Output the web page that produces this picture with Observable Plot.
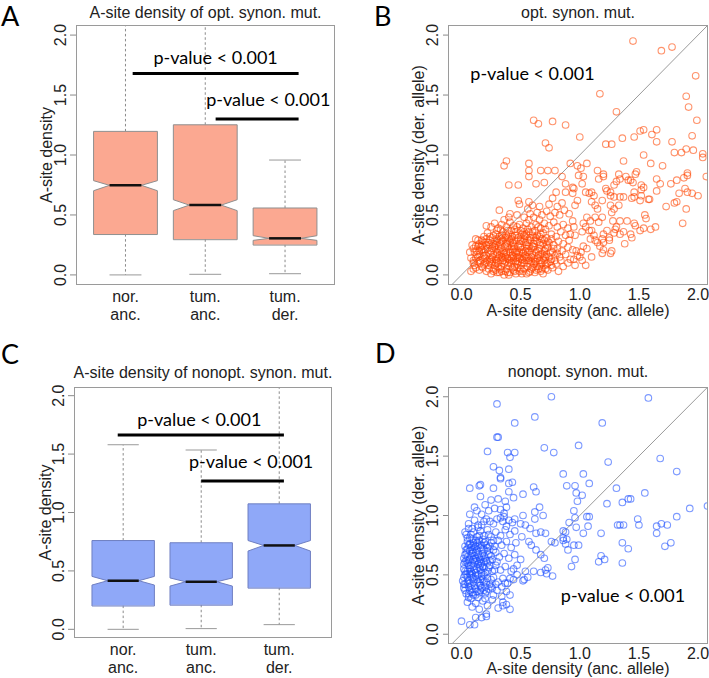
<!DOCTYPE html>
<html><head><meta charset="utf-8">
<script src="https://cdn.jsdelivr.net/npm/d3@7"></script>
<script src="https://cdn.jsdelivr.net/npm/@observablehq/plot@0.6"></script>
<style>
html,body{margin:0;padding:0;background:#fff;}
#root{position:relative;width:709px;height:678px;overflow:hidden;background:#fff;}
#root > svg{position:absolute;}
</style></head><body><div id="root"></div>
<script>
// ---------- shared categories / ticks ----------
const groups = ["nor.\nanc.", "tum.\nanc.", "tum.\nder."];
const yTicks = [0, 0.5, 1, 1.5, 2];
const xTicksScatter = [0, 0.5, 1, 1.5, 2];
const diagonal = [-0.2, 2.3];
const pLabel = "p-value < 0.001";

// ---------- Panel A: optimal synonymous (box stats) ----------
const optQ1 = [0.340, 0.297, 0.252];
const optQ3 = [1.197, 1.252, 0.558];
const optMed = [0.747, 0.582, 0.305];
const optNotchLo = [0.702, 0.536, 0.288];
const optNotchHi = [0.786, 0.627, 0.327];
const optWhiskLo = [0.000, 0.005, 0.010];
const optWhiskHi = [2.40, 2.40, 0.958];
const optBarFrom = [1.09, 2.13];
const optBarTo = [3.17, 3.17];
const optBarY = [1.68, 1.30];
const optTextX = [2.13, 2.79];
const optTextY = [1.81, 1.46];

// ---------- Panel C: non-optimal synonymous (box stats) ----------
const nonQ1 = [0.203, 0.210, 0.356];
const nonQ3 = [0.760, 0.741, 1.074];
const nonMed = [0.416, 0.407, 0.718];
const nonNotchLo = [0.379, 0.370, 0.670];
const nonNotchHi = [0.453, 0.440, 0.760];
const nonWhiskLo = [0.000, 0.006, 0.040];
const nonWhiskHi = [1.580, 1.535, 2.40];
const nonBarFrom = [0.93, 2.00];
const nonBarTo = [3.06, 3.06];
const nonBarY = [1.664, 1.27];
const nonTextX = [1.975, 2.64];
const nonTextY = [1.79, 1.43];

// ---------- Panel B: opt. synon. mut. scatter [anc, der] ----------
const optPoints = [
[1.45,1.95],[1.69,1.87],[1.78,1.90],[1.98,1.66],[1.17,1.51],[1.90,1.49],[1.92,1.40],[1.31,1.36],[1.99,1.29],[0.61,1.29],[0.65,1.26],[0.77,1.28],[0.88,1.25],[1.00,1.15],[0.71,1.10],[0.74,1.06],[1.95,1.16],[1.22,1.09],[1.27,1.09],[1.36,1.14],[1.46,1.15],[1.51,1.20],[1.54,1.21],[1.61,1.17],[1.65,1.21],[1.65,1.11],[1.78,1.11],[1.96,1.04],[1.90,1.05],[2.04,1.01],[1.86,1.02],[1.80,1.02],[1.54,1.00],
[0.38,0.95],[0.36,0.91],[0.57,0.93],[0.57,0.87],[0.57,0.82],[0.67,0.87],[0.73,0.87],[0.79,0.87],[0.40,0.75],[0.48,0.75],[0.70,0.77],[0.85,0.82],[0.88,0.76],[0.80,0.69],[0.88,0.69],[0.94,0.73],[0.48,0.62],[0.49,0.59],[0.57,0.61],[0.32,0.54],[0.41,0.51],[0.21,0.41],[0.14,0.29],[0.17,0.29],[0.10,0.22],[0.10,0.12],[1.06,0.93],[0.63,0.76],
[2.04,0.98],[1.37,0.95],[1.60,0.93],[1.70,0.91],[2.07,0.82],[1.91,0.85],[1.91,0.83],[1.82,0.79],[1.88,0.81],[1.77,0.76],[1.65,0.80],[1.68,0.76],[1.65,0.70],[1.59,0.63],[1.84,0.68],[1.89,0.72],[1.91,0.69],[1.95,0.68],[2.00,0.66],[1.90,0.55],[1.82,0.61],[1.80,0.60],[1.73,0.57],[1.87,0.43],[1.64,0.40],[1.60,0.38],[1.55,0.50],[1.56,0.47],[1.54,0.39],[1.51,0.37],[1.47,0.41],[1.46,0.43],[1.43,0.34],[1.44,0.31],[1.38,0.26],[1.40,0.45],[1.34,0.45],[1.28,0.45],[1.31,0.40],[1.27,0.20],[1.26,0.18],[1.19,0.18],[1.20,0.21],[1.29,0.35],[1.30,0.38],[1.34,0.34],[1.37,0.36],[1.20,0.34],[1.23,0.37],[1.19,0.30],[1.20,0.27],[1.25,0.31],[1.25,0.29],[1.52,0.75],[1.54,0.73],[1.47,0.84],[1.48,0.86],[1.43,0.79],[1.45,0.77],[1.46,0.69],[1.52,0.71],[1.52,0.66],[1.44,0.64],[1.46,0.65],[1.51,0.62],[1.58,0.63],[1.39,0.82],[1.41,0.79],[1.34,0.80],[1.33,0.84],[1.31,0.78],[1.29,0.75],[1.23,0.70],[1.22,0.72],[1.26,0.69],[1.26,0.66],[1.29,0.65],[1.26,0.58],[1.29,0.55],[1.27,0.52],[1.33,0.58],[1.34,0.65],[1.37,0.65],[1.16,0.80],[1.20,0.84],[1.15,0.87],[1.20,0.82],[1.05,0.69],[1.08,0.68],[1.10,0.69],[1.12,0.66],[1.10,0.61],[1.13,0.58],[1.15,0.55],[1.19,0.62],[1.06,0.48],[1.09,0.45],[1.13,0.48],[1.19,0.48],[1.16,0.44],[1.03,0.43],[1.05,0.40],[1.02,0.36],[1.08,0.37],[1.10,0.37],[1.12,0.33],[1.09,0.30],[1.13,0.29],[1.15,0.27],[1.17,0.24],[1.03,0.24],[1.06,0.22],[1.01,0.19],[0.98,0.16],[0.95,0.13],[1.02,0.12],[0.92,0.93],[0.98,0.91],[1.01,0.89],[0.99,0.83],[1.03,0.82],[1.02,0.76],[0.95,0.72],[0.94,0.68],[0.98,0.62],[0.96,0.58],[0.94,0.45],[0.95,0.40],[0.92,0.34],[0.96,0.33],[1.10,0.15],[1.05,0.08],
[0.21,0.03],[0.25,0.01],[0.29,0.04],[0.32,0.02],[0.36,0.00],[0.38,0.05],[0.41,0.02],[0.44,0.04],[0.46,0.01],[0.49,0.03],[0.53,0.05],[0.55,0.01],[0.58,0.03],[0.62,0.02],[0.65,0.05],[0.69,0.01],[0.73,0.04],[0.77,0.06],[0.31,0.06],[0.47,0.06],[0.60,0.06],[0.15,0.04],[0.18,0.06],[0.27,0.05],[0.40,0.00],[0.51,0.01],[0.67,0.03],[0.82,0.03],[0.86,0.07],[0.34,0.03],
[0.11,0.08],[0.14,0.11],[0.17,0.07],[0.20,0.10],[0.23,0.08],[0.26,0.11],[0.28,0.08],[0.31,0.10],[0.34,0.07],[0.37,0.11],[0.39,0.08],[0.42,0.10],[0.45,0.07],[0.48,0.11],[0.50,0.08],[0.53,0.10],[0.56,0.07],[0.59,0.11],[0.61,0.09],[0.64,0.07],[0.68,0.10],[0.71,0.08],[0.75,0.11],[0.80,0.09],[0.84,0.12],[0.90,0.10],[0.33,0.12],[0.44,0.12],[0.57,0.12],[0.22,0.12],[0.96,0.08],[0.66,0.12],
[0.12,0.14],[0.15,0.17],[0.18,0.13],[0.21,0.16],[0.24,0.14],[0.27,0.17],[0.29,0.13],[0.32,0.16],[0.35,0.14],[0.38,0.17],[0.40,0.13],[0.43,0.16],[0.46,0.14],[0.48,0.17],[0.51,0.13],[0.54,0.16],[0.57,0.14],[0.60,0.17],[0.62,0.13],[0.65,0.16],[0.69,0.14],[0.72,0.17],[0.76,0.13],[0.79,0.16],[0.83,0.15],[0.88,0.17],[0.92,0.13],[0.36,0.18],[0.52,0.18],[0.45,0.19],[1.00,0.15],[0.97,0.20],
[0.13,0.20],[0.16,0.23],[0.19,0.19],[0.22,0.22],[0.25,0.20],[0.28,0.23],[0.30,0.19],[0.33,0.22],[0.36,0.20],[0.39,0.23],[0.41,0.19],[0.44,0.22],[0.47,0.20],[0.50,0.23],[0.52,0.19],[0.55,0.22],[0.58,0.20],[0.61,0.23],[0.63,0.19],[0.66,0.22],[0.70,0.20],[0.73,0.23],[0.77,0.19],[0.81,0.22],[0.85,0.20],[0.90,0.23],[0.94,0.21],[0.42,0.24],[0.57,0.24],[0.31,0.24],[0.24,0.25],
[0.15,0.26],[0.18,0.28],[0.21,0.25],[0.24,0.29],[0.27,0.26],[0.30,0.28],[0.33,0.26],[0.35,0.29],[0.38,0.26],[0.41,0.28],[0.44,0.26],[0.46,0.29],[0.49,0.26],[0.52,0.28],[0.55,0.25],[0.58,0.29],[0.61,0.26],[0.64,0.28],[0.67,0.25],[0.70,0.29],[0.74,0.27],[0.78,0.25],[0.82,0.28],[0.86,0.26],[0.91,0.29],[0.53,0.30],[0.40,0.30],[0.63,0.31],
[0.19,0.32],[0.22,0.35],[0.26,0.31],[0.29,0.34],[0.32,0.32],[0.35,0.36],[0.37,0.31],[0.40,0.34],[0.43,0.32],[0.46,0.36],[0.48,0.31],[0.51,0.34],[0.54,0.32],[0.57,0.36],[0.60,0.33],[0.62,0.37],[0.66,0.32],[0.69,0.35],[0.72,0.31],[0.76,0.34],[0.80,0.32],[0.84,0.36],[0.88,0.33],[0.45,0.38],[0.56,0.38],[0.71,0.38],
[0.25,0.40],[0.28,0.43],[0.31,0.39],[0.34,0.42],[0.38,0.40],[0.41,0.44],[0.44,0.41],[0.49,0.42],[0.52,0.39],[0.55,0.43],[0.59,0.40],[0.63,0.42],[0.67,0.39],[0.70,0.43],[0.74,0.41],[0.78,0.44],[0.81,0.40],[0.86,0.42],[0.90,0.39],[0.57,0.46],[0.66,0.46],[0.36,0.46],
[0.40,0.48],[0.47,0.50],[0.53,0.48],[0.58,0.51],[0.61,0.48],[0.64,0.52],[0.68,0.50],[0.72,0.53],[0.75,0.49],[0.79,0.52],[0.83,0.50],[0.87,0.54],[0.91,0.51],[0.56,0.55],[0.66,0.57],[0.74,0.59],[0.81,0.57],[0.85,0.60],[0.60,0.58],[0.77,0.64],
[0.08,0.14],[0.07,0.19],[0.09,0.25],[0.08,0.03],[0.10,0.05],[0.12,0.30],
[0.23,0.05],[0.30,0.02],[0.37,0.03],[0.43,0.06],[0.50,0.05],[0.57,0.02],[0.63,0.04],[0.71,0.05],
[0.19,0.09],[0.25,0.09],[0.30,0.12],[0.36,0.09],[0.41,0.12],[0.47,0.09],[0.52,0.12],[0.58,0.09],[0.63,0.11],[0.70,0.12],
[0.20,0.14],[0.26,0.15],[0.31,0.14],[0.37,0.15],[0.42,0.14],[0.47,0.15],[0.53,0.14],[0.59,0.15],[0.64,0.14],[0.74,0.15],
[0.17,0.21],[0.23,0.18],[0.29,0.21],[0.34,0.18],[0.40,0.21],[0.46,0.18],[0.51,0.21],[0.56,0.19],[0.62,0.21],[0.68,0.18],
[0.20,0.27],[0.26,0.24],[0.32,0.27],[0.37,0.24],[0.43,0.27],[0.48,0.24],[0.54,0.27],[0.60,0.24],[0.66,0.27],[0.72,0.25],
[0.24,0.32],[0.30,0.30],[0.34,0.33],[0.39,0.31],[0.45,0.33],[0.50,0.30],[0.55,0.34],[0.61,0.31],[0.67,0.34],
[0.30,0.37],[0.42,0.37],[0.53,0.36],[0.47,0.40],[0.65,0.40],
[0.27,0.03],[0.33,0.05],[0.39,0.02],[0.45,0.03],[0.52,0.03],[0.59,0.05],[0.66,0.07],
[0.16,0.10],[0.24,0.11],[0.29,0.10],[0.35,0.12],[0.40,0.10],[0.46,0.11],[0.51,0.10],[0.55,0.12],[0.62,0.11],[0.67,0.09],[0.73,0.10],
[0.14,0.15],[0.19,0.16],[0.25,0.13],[0.30,0.17],[0.34,0.15],[0.39,0.14],[0.44,0.15],[0.49,0.14],[0.55,0.15],[0.61,0.14],[0.67,0.17],[0.71,0.15],
[0.15,0.20],[0.20,0.21],[0.26,0.22],[0.32,0.20],[0.38,0.19],[0.43,0.21],[0.49,0.19],[0.54,0.20],[0.59,0.22],[0.65,0.20],[0.71,0.22],
[0.17,0.25],[0.23,0.27],[0.29,0.25],[0.34,0.28],[0.39,0.27],[0.45,0.24],[0.50,0.28],[0.56,0.27],[0.62,0.29],[0.69,0.26],
[0.21,0.30],[0.27,0.33],[0.33,0.30],[0.38,0.33],[0.42,0.30],[0.47,0.33],[0.53,0.33],[0.58,0.31],[0.64,0.33],
[0.33,0.38],[0.39,0.37],[0.50,0.37],[0.60,0.36],
[0.10,0.10],[0.12,0.06],[0.13,0.17],[0.11,0.19],[0.14,0.24],[0.16,0.12],[0.18,0.24],[0.12,0.24],
[0.68,0.05],[0.72,0.09],[0.76,0.08],[0.70,0.16],[0.75,0.19],[0.78,0.22],[0.73,0.28],[0.76,0.30],[0.68,0.30],[0.79,0.12],[0.81,0.18]
];

// ---------- Panel D: nonopt. synon. mut. scatter [anc, der] ----------
const nonPoints = [
[0.76,2.00],[0.30,1.94],[0.62,1.83],[0.45,1.78],[0.30,1.66],[0.31,1.66],[0.22,1.54],[0.39,1.53],[0.45,1.53],[0.41,1.49],[0.70,1.57],[0.78,1.53],[0.99,1.59],[0.27,1.41],[0.32,1.38],[0.40,1.39],[0.33,1.32],[0.86,1.35],[1.03,1.35],[1.58,1.99],[1.19,1.78],[1.68,1.48],[1.24,1.45],[1.82,1.37],[0.89,1.25],[0.96,1.25],[1.08,1.27],[0.97,1.19],[1.02,1.17],[0.98,1.12],[1.31,1.23],[1.55,1.19],[1.23,1.10],[1.36,1.11],[1.41,1.14],[1.43,1.14],[1.93,1.06],[2.08,1.08],[0.95,1.04],[0.96,0.98],[1.06,0.99],[1.08,0.99],[0.91,0.94],[0.97,0.90],[1.07,0.91],[1.03,0.85],[0.86,0.87],[0.86,0.79],[0.89,0.80],[0.88,0.76],[0.90,0.71],[0.95,0.75],[0.99,0.75],[0.96,0.63],[0.93,0.57],[1.18,0.85],[1.32,0.92],[1.34,0.92],[1.37,0.92],[1.49,0.97],[1.50,0.92],[1.65,0.91],[1.69,0.93],[1.74,0.92],[1.65,0.85],[1.82,0.99],[1.36,0.77],[1.41,0.72],[1.77,0.77],[1.72,0.74],[1.18,0.66],[1.21,0.63],[1.16,0.61],[1.36,0.60],
[0.33,1.31],[0.07,1.23],[0.15,1.25],[0.16,1.26],[0.27,1.23],[0.40,1.27],[0.43,1.28],[0.61,1.24],[0.63,1.20],[0.16,1.16],[0.40,1.20],[0.52,1.18],[0.11,1.07],[0.20,1.09],[0.25,1.13],[0.31,1.14],[0.37,1.12],[0.44,1.15],[0.07,1.01],[0.13,1.04],[0.17,1.01],[0.23,1.04],[0.28,1.06],[0.33,1.05],[0.36,1.02],[0.38,1.07],[0.52,1.00],[0.62,1.03],[0.66,1.07],[0.69,1.00],[0.62,0.97],[0.03,0.86],[0.09,0.89],[0.14,0.92],[0.19,0.95],[0.24,0.95],[0.30,0.97],[0.35,0.95],[0.40,0.96],[0.45,0.97],[0.50,0.93],[0.54,0.92],[0.58,0.89],[0.63,0.85],[0.67,0.86],[0.71,0.85],[0.51,0.82],[0.57,0.78],[0.59,0.75],[0.63,0.71],[0.67,0.67],[0.70,0.64],[0.73,0.56],[0.71,0.54],[0.67,0.52],[0.76,0.78],[0.79,0.77],[0.86,0.81],[0.88,0.86],[0.54,0.53],[0.56,0.48],[0.52,0.45],[0.47,0.50],[0.44,0.55],[0.41,0.47],[0.37,0.43],[0.34,0.40],[0.41,0.33],[0.38,0.25],[0.35,0.24],[0.41,0.21],[0.21,0.17],[0.17,0.14],[0.12,0.14],[0.07,0.08],[0.00,0.11],[0.11,0.08],[0.21,0.15],[0.72,0.51],[0.77,0.49],[0.53,0.46],[0.61,0.53],
[0.05,0.27],[0.09,0.23],[0.12,0.26],[0.15,0.21],[0.18,0.28],[0.22,0.24],[0.26,0.29],[0.31,0.22],[0.08,0.30],[0.14,0.31],[0.20,0.30],[0.35,0.27],
[0.02,0.39],[0.04,0.34],[0.07,0.37],[0.10,0.33],[0.12,0.38],[0.15,0.35],[0.17,0.39],[0.20,0.34],[0.23,0.38],[0.27,0.33],[0.30,0.37],[0.34,0.32],[0.38,0.36],[0.06,0.31],[0.25,0.40],
[0.01,0.45],[0.03,0.42],[0.05,0.48],[0.07,0.43],[0.09,0.47],[0.11,0.41],[0.13,0.46],[0.15,0.43],[0.17,0.49],[0.19,0.44],[0.22,0.47],[0.24,0.42],[0.27,0.48],[0.31,0.44],[0.35,0.47],[0.39,0.43],[0.44,0.46],[0.08,0.50],[0.14,0.50],[0.20,0.40],
[0.02,0.55],[0.04,0.51],[0.06,0.58],[0.08,0.53],[0.10,0.57],[0.12,0.52],[0.14,0.59],[0.16,0.54],[0.18,0.57],[0.20,0.52],[0.23,0.56],[0.26,0.53],[0.29,0.58],[0.33,0.54],[0.37,0.57],[0.42,0.53],[0.47,0.58],[0.05,0.60],[0.11,0.61],[0.17,0.60],[0.22,0.60],
[0.02,0.64],[0.04,0.68],[0.06,0.62],[0.08,0.66],[0.10,0.69],[0.12,0.64],[0.14,0.67],[0.16,0.63],[0.18,0.68],[0.20,0.64],[0.23,0.67],[0.26,0.63],[0.29,0.69],[0.32,0.65],[0.36,0.68],[0.40,0.64],[0.45,0.67],[0.50,0.63],[0.07,0.70],[0.13,0.71],[0.19,0.71],
[0.03,0.74],[0.05,0.78],[0.08,0.73],[0.10,0.77],[0.12,0.74],[0.15,0.79],[0.17,0.75],[0.20,0.78],[0.22,0.73],[0.25,0.77],[0.28,0.74],[0.31,0.79],[0.34,0.75],[0.38,0.78],[0.42,0.73],[0.46,0.77],[0.09,0.80],
[0.04,0.84],[0.07,0.81],[0.10,0.86],[0.13,0.82],[0.16,0.87],[0.19,0.83],[0.22,0.88],[0.25,0.82],[0.29,0.86],[0.33,0.83],[0.37,0.88],[0.41,0.84],[0.45,0.87],[0.06,0.89],[0.14,0.90],
[0.06,0.93],[0.11,0.96],[0.17,0.92],[0.21,0.97],[0.27,0.93],[0.33,0.98],[0.38,0.91],[0.43,0.94],[0.36,0.99],
[0.03,0.37],[0.06,0.40],[0.09,0.38],[0.13,0.36],[0.16,0.41],[0.21,0.36],[0.26,0.39],
[0.02,0.48],[0.06,0.45],[0.10,0.44],[0.12,0.49],[0.16,0.46],[0.21,0.44],[0.25,0.46],[0.29,0.42],
[0.03,0.53],[0.07,0.55],[0.09,0.51],[0.13,0.55],[0.17,0.52],[0.19,0.56],[0.24,0.58],[0.28,0.54],
[0.03,0.61],[0.07,0.63],[0.09,0.60],[0.11,0.66],[0.15,0.61],[0.17,0.65],[0.21,0.62],[0.25,0.66],[0.30,0.61],
[0.04,0.71],[0.06,0.75],[0.09,0.71],[0.11,0.73],[0.14,0.75],[0.18,0.72],[0.21,0.75],[0.27,0.71],
[0.05,0.81],[0.08,0.84],[0.12,0.79],[0.15,0.83],[0.18,0.80],[0.23,0.84],[0.27,0.79],
[0.02,0.42],[0.05,0.44],[0.08,0.41],[0.10,0.48],[0.14,0.44],[0.18,0.46],
[0.03,0.50],[0.05,0.53],[0.07,0.51],[0.11,0.54],[0.15,0.56],[0.19,0.50],[0.22,0.53],
[0.02,0.59],[0.04,0.62],[0.08,0.58],[0.10,0.63],[0.13,0.62],[0.16,0.58],[0.19,0.61],[0.24,0.62],
[0.03,0.67],[0.05,0.65],[0.09,0.68],[0.12,0.69],[0.15,0.65],[0.19,0.66],[0.22,0.70],
[0.05,0.72],[0.07,0.76],[0.10,0.75],[0.13,0.77],[0.16,0.73],[0.19,0.77],[0.24,0.74],
[0.06,0.34],[0.09,0.35],[0.12,0.33],[0.16,0.37],[0.19,0.37]
];

// ---------- styling ----------
const AXIS_FONT = "'Liberation Sans', Arial, Helvetica, sans-serif";
const P_FONT = "Lato, 'Open Sans', sans-serif";
const FS = 16;
const fmt1 = d3.format(".1f");
const root = document.getElementById("root");

function place(svg, left, top) {
  svg.style.left = left + "px";
  svg.style.top = top + "px";
  root.appendChild(svg);
}

function notchPolygons(q1, q3, med, nlo, nhi) {
  const hw = 0.4, nw = 0.2, pts = [];
  groups.forEach((g, i) => {
    const c = i + 1;
    [[c-hw,q1[i]],[c-hw,nlo[i]],[c-nw,med[i]],[c-hw,nhi[i]],[c-hw,q3[i]],
     [c+hw,q3[i]],[c+hw,nhi[i]],[c+nw,med[i]],[c+hw,nlo[i]],[c+hw,q1[i]]]
      .forEach(([x, y]) => pts.push({g: i, x, y}));
  });
  return pts;
}

const txt = {fontFamily: AXIS_FONT, fontSize: FS, fill: "#222", textAnchor: "middle", lineAnchor: "middle"};

function boxPanel(o) {
  const idx = groups.map((g, i) => i);
  return Plot.plot({
    width: o.width, height: o.height,
    marginLeft: o.ml, marginRight: o.mr, marginTop: o.mt, marginBottom: o.mb,
    style: {fontFamily: AXIS_FONT, fontSize: "16px", color: "#222", background: "transparent", overflow: "visible"},
    x: {domain: o.xDomain, axis: null},
    y: {domain: o.yDomain},
    marks: [
      Plot.link(idx, {x1: i => i + 1, x2: i => i + 1, y1: i => o.q3[i], y2: i => o.whi[i], stroke: "#8a8a8a", strokeDasharray: "2.5,2.5", clip: true}),
      Plot.link(idx, {x1: i => i + 1, x2: i => i + 1, y1: i => o.q1[i], y2: i => o.wlo[i], stroke: "#8a8a8a", strokeDasharray: "2.5,2.5", clip: true}),
      Plot.link(idx, {x1: i => i + 0.8, x2: i => i + 1.2, y1: i => o.whi[i], y2: i => o.whi[i], stroke: "#999", clip: true}),
      Plot.link(idx, {x1: i => i + 0.8, x2: i => i + 1.2, y1: i => o.wlo[i], y2: i => o.wlo[i], stroke: "#999", clip: true}),
      Plot.line(notchPolygons(o.q1, o.q3, o.med, o.nlo, o.nhi), {x: "x", y: "y", z: "g", curve: "linear-closed", fill: o.fill, stroke: o.stroke, strokeWidth: 1}),
      Plot.link(idx, {x1: i => i + 0.8, x2: i => i + 1.2, y1: i => o.med[i], y2: i => o.med[i], stroke: "#111", strokeWidth: 2.5}),
      Plot.frame({stroke: "#9a9a9a"}),
      Plot.link(o.barFrom, {x1: d => d, x2: (d, i) => o.barTo[i], y1: (d, i) => o.barY[i], y2: (d, i) => o.barY[i], stroke: "#000", strokeWidth: 3}),
      Plot.text(o.textX, {x: d => d, y: (d, i) => o.textY[i], text: () => pLabel, fontFamily: P_FONT, fontSize: 18, fill: "#000", textAnchor: "middle", lineAnchor: "middle"}),
      Plot.axisY({ticks: yTicks, tickSize: 6, tickFormat: () => "", label: null, stroke: "#8a8a8a"}),
      Plot.text(yTicks, {...txt, y: d => d, text: d => fmt1(d), frameAnchor: "left", dx: -16, rotate: -90}),
      Plot.text(groups, {...txt, x: (d, i) => i + 1, text: d => d, frameAnchor: "bottom", lineAnchor: "top", dy: 5, lineHeight: 1.1}),
      Plot.text(["A-site density"], {...txt, text: d => d, frameAnchor: "left", dx: o.ylabDx, rotate: -90}),
      Plot.text([o.title], {...txt, text: d => d, frameAnchor: "top", dy: o.titleDy})
    ]
  });
}

function scatterPanel(o) {
  return Plot.plot({
    width: o.width, height: o.height,
    marginLeft: o.ml, marginRight: o.mr, marginTop: o.mt, marginBottom: o.mb,
    style: {fontFamily: AXIS_FONT, fontSize: "16px", color: "#222", background: "transparent", overflow: "visible"},
    x: {domain: [-0.11, 2.08], axis: null},
    y: {domain: o.yDomain},
    marks: [
      Plot.line(diagonal, {x: d => d, y: d => d, stroke: "#9a9a9a", strokeWidth: 1, clip: true}),
      Plot.dot(o.points, {x: d => d[0], y: d => d[1], r: 3.3, stroke: o.color, strokeOpacity: 0.58, strokeWidth: 1.1, fill: "none", clip: true}),
      Plot.frame({stroke: "#9a9a9a"}),
      Plot.text(xTicksScatter, {...txt, x: d => d, text: d => fmt1(d), frameAnchor: "bottom", dy: 10}),
      Plot.axisY({ticks: yTicks, tickSize: 5, tickFormat: () => "", label: null, stroke: "#8a8a8a"}),
      Plot.text(yTicks, {...txt, y: d => d, text: d => fmt1(d), frameAnchor: "left", dx: -16, rotate: -90}),
      Plot.text(["A-site density (anc. allele)"], {...txt, text: d => d, frameAnchor: "bottom", dy: o.xlabDy}),
      Plot.text(["A-site density (der. allele)"], {...txt, text: d => d, frameAnchor: "left", dx: -30, rotate: -90}),
      Plot.text([o.title], {...txt, text: d => d, frameAnchor: "top", dy: o.titleDy}),
      Plot.text([pLabel], {x: o.pX, y: o.pY, text: d => d, fontFamily: P_FONT, fontSize: 18, fill: "#000", textAnchor: "middle", lineAnchor: "middle"})
    ]
  });
}

place(boxPanel({
  width: 345, height: 330, ml: 76, mr: 11, mt: 25, mb: 46,
  xDomain: [0.386, 3.62], yDomain: [-0.08, 2.08],
  q1: optQ1, q3: optQ3, med: optMed, nlo: optNotchLo, nhi: optNotchHi, wlo: optWhiskLo, whi: optWhiskHi,
  fill: "#FBA891", stroke: "#8f8f8f",
  barFrom: optBarFrom, barTo: optBarTo, barY: optBarY, textX: optTextX, textY: optTextY,
  title: "A-site density of opt. synon. mut.", titleDy: -13, ylabDx: -30
}), 0, 0);

place(scatterPanel({
  width: 360, height: 330, ml: 88, mr: 13, mt: 25, mb: 46,
  yDomain: [-0.08, 2.08], points: optPoints, color: "#FF4500",
  title: "opt. synon. mut.", titleDy: -13, xlabDy: 26, pX: 0.60, pY: 1.67
}), 360, 0);

place(boxPanel({
  width: 345, height: 333, ml: 74, mr: 14, mt: 42, mb: 41,
  xDomain: [0.376, 3.67], yDomain: [-0.07, 2.07],
  q1: nonQ1, q3: nonQ3, med: nonMed, nlo: nonNotchLo, nhi: nonNotchHi, wlo: nonWhiskLo, whi: nonWhiskHi,
  fill: "#8FA8F8", stroke: "#6F7FC2",
  barFrom: nonBarFrom, barTo: nonBarTo, barY: nonBarY, textX: nonTextX, textY: nonTextY,
  title: "A-site density of nonopt. synon. mut.", titleDy: -15, ylabDx: -28.5
}), 0, 345);

place(scatterPanel({
  width: 360, height: 333, ml: 88, mr: 13, mt: 42, mb: 35,
  yDomain: [-0.078, 2.078], points: nonPoints, color: "#1E50FF",
  title: "nonopt. synon. mut.", titleDy: -15.5, xlabDy: 25.5, pX: 1.365, pY: 0.32
}), 360, 345);

const letters = [{t: "A", x: 1, y: 25.5}, {t: "B", x: 374, y: 25.5}, {t: "C", x: 1, y: 364}, {t: "D", x: 375, y: 363}];
const ov = d3.create("svg").attr("width", 709).attr("height", 678).style("left", "0px").style("top", "0px").style("pointer-events", "none");
ov.selectAll("text").data(letters).join("text")
  .attr("x", d => d.x).attr("y", d => d.y).text(d => d.t)
  .attr("font-family", P_FONT).attr("font-size", 27).attr("fill", "#000");
root.appendChild(ov.node());
</script></body></html>
